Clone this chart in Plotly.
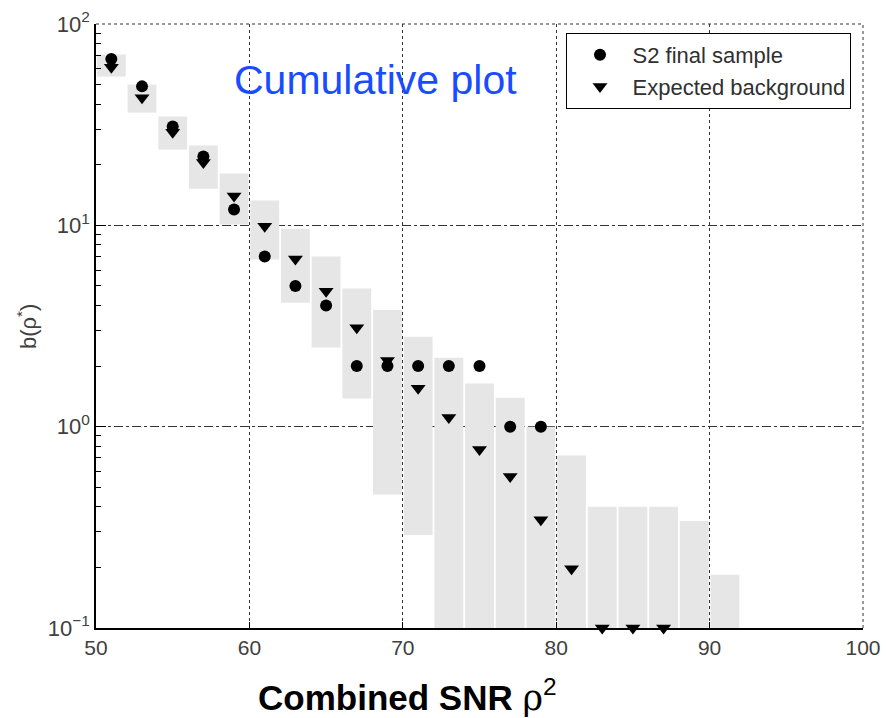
import plotly.graph_objects as go

# ---- data ----
bin_centers = [51, 53, 55, 57, 59, 61, 63, 65, 67, 69, 71, 73, 75, 77, 79, 81, 83, 85, 87, 89, 91]
band_high = [70.5, 50, 34.7, 24.9, 18.1, 13.3, 9.6, 7.0, 4.85, 3.8, 2.8, 2.2, 1.64, 1.39, 1.0, 0.72, 0.40, 0.40, 0.40, 0.34, 0.184]
band_low = [54.8, 36.3, 23.8, 15.2, 10.1, 6.76, 4.13, 2.47, 1.38, 0.46, 0.29, 0.01, 0.01, 0.01, 0.01, 0.01, 0.01, 0.01, 0.01, 0.01, 0.01]

sample_x = [51, 53, 55, 57, 59, 61, 63, 65, 67, 69, 71, 73, 75, 77, 79]
sample_y = [67, 49, 31, 22, 12, 7, 5, 4, 2, 2, 2, 2, 2, 1, 1]

bkg_x = [51, 53, 55, 57, 59, 61, 63, 65, 67, 69, 71, 73, 75, 77, 79, 81, 83, 85, 87]
bkg_y = [61, 43, 29, 20.5, 14, 9.9, 6.8, 4.7, 3.1, 2.13, 1.55, 1.11, 0.77, 0.565, 0.345, 0.197, 0.1, 0.1, 0.1]

x_ticks = [50, 60, 70, 80, 90, 100]
y_ticks = [0.1, 1, 10, 100]
y_ticktext = ["10<sup>−1</sup>", "10<sup>0</sup>", "10<sup>1</sup>", "10<sup>2</sup>"]
y_minor = [m * d for d in (0.1, 1, 10) for m in range(2, 10)]

GRID = "#333333"

fig = go.Figure()

fig.add_trace(go.Bar(
    x=bin_centers,
    y=[h - l for h, l in zip(band_high, band_low)],
    base=band_low,
    width=1.88,
    marker=dict(color="#e6e6e6", line=dict(width=0)),
    showlegend=False,
    hoverinfo="skip",
))

fig.add_trace(go.Scatter(
    x=sample_x, y=sample_y, mode="markers",
    name="S2 final sample",
    marker=dict(symbol="circle", size=12, color="black"),
    cliponaxis=False,
))
fig.add_trace(go.Scatter(
    x=bkg_x, y=bkg_y, mode="markers",
    name="Expected background",
    marker=dict(symbol="triangle-down", size=13, color="black"),
    cliponaxis=False,
))

fig.update_layout(
    width=886, height=718,
    margin=dict(l=96, r=23, t=24, b=90),
    paper_bgcolor="white",
    plot_bgcolor="white",
    font=dict(family="Liberation Sans, Arial, sans-serif", color="#404040"),
    barmode="overlay",
    legend=dict(
        x=0.985, y=0.985, xanchor="right", yanchor="top",
        bgcolor="white", bordercolor="black", borderwidth=1,
        font=dict(size=22, color="#303030"),
        itemsizing="trace", tracegroupgap=0, itemwidth=55,
    ),
    xaxis=dict(
        range=[50, 100], tickvals=x_ticks, automargin=False,
        ticks="inside", ticklen=6, tickcolor="black",
        showline=True, linecolor="black", linewidth=1.5,
        showgrid=True, gridcolor=GRID, griddash="dot", gridwidth=1,
        zeroline=False,
        tickfont=dict(size=21, color="#404040"),
    ),
    yaxis=dict(
        type="log", range=[-1, 2], automargin=False,
        tickvals=y_ticks, ticktext=y_ticktext,
        ticks="inside", ticklen=10, tickcolor="black",
        minor=dict(tickvals=y_minor, ticks="inside", ticklen=5,
                   tickcolor="black", showgrid=False),
        showline=True, linecolor="black", linewidth=1.5,
        showgrid=True, gridcolor=GRID, griddash="dashdot", gridwidth=1,
        zeroline=False,
        tickfont=dict(size=22, color="#404040"),
    ),
    shapes=[
        dict(type="line", xref="paper", yref="paper", x0=0, x1=1, y0=1, y1=1,
             line=dict(color=GRID, width=1, dash="dot"), layer="below"),
        dict(type="line", xref="paper", yref="paper", x0=1, x1=1, y0=0, y1=1,
             line=dict(color=GRID, width=1, dash="dot"), layer="below"),
    ],
    annotations=[
        dict(text="Cumulative plot", xref="paper", yref="paper",
             x=0.364, y=0.907, showarrow=False, xanchor="center", yanchor="middle",
             font=dict(size=41, color="#1a4cff")),
        dict(text="<b>Combined SNR</b> <span style='font-family:DejaVu Serif'>ρ</span><sup>2</sup>",
             xref="paper", yref="paper",
             x=(256 - 96) / 767, y=-0.111, showarrow=False, xanchor="left", yanchor="middle",
             font=dict(size=35, color="black")),
        dict(text="b(ρ<sup>*</sup>)", xref="paper", yref="paper",
             x=-0.09, y=0.5, showarrow=False, textangle=-90,
             xanchor="center", yanchor="middle",
             font=dict(size=22, color="#404040")),
    ],
)

fig.write_html("out.html")
